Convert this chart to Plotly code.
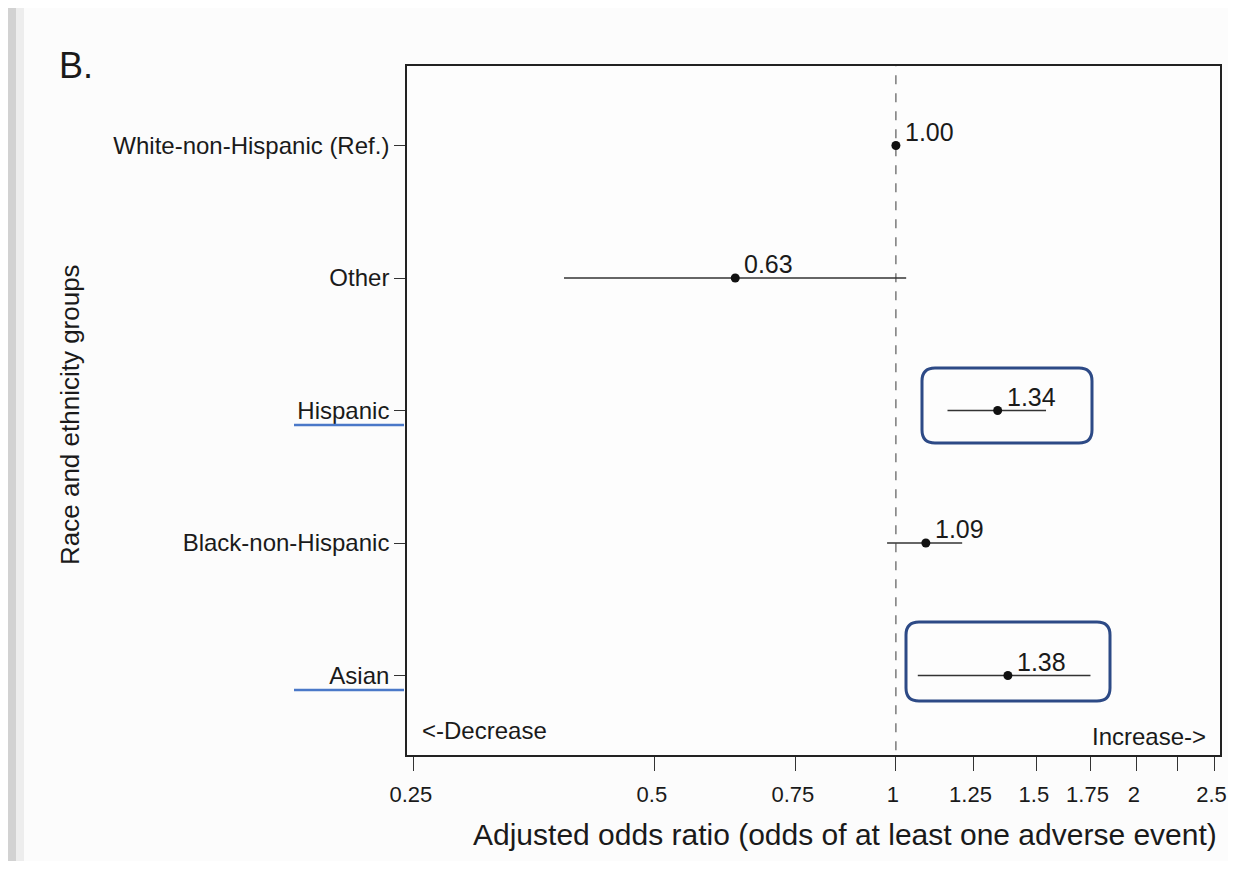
import plotly.graph_objects as go
import math

# ---- data ----
groups = ["White-non-Hispanic (Ref.)", "Other", "Hispanic", "Black-non-Hispanic", "Asian"]
odds = [1.00, 0.63, 1.34, 1.09, 1.38]
lower = [1.00, 0.385, 1.16, 0.975, 1.065]
upper = [1.00, 1.03, 1.54, 1.21, 1.75]
value_labels = ["1.00", "0.63", "1.34", "1.09", "1.38"]
ypos = [4, 3, 2, 1, 0]
tick_vals = [0.25, 0.5, 0.75, 1, 1.25, 1.5, 1.75, 2, 2.25, 2.5]
tick_text = ["0.25", "0.5", "0.75", "1", "1.25", "1.5", "1.75", "2", "", "2.5"]

OFF = 8                      # page body margin
WF, HF = 1236 - 2 * OFF, 869 - 2 * OFF   # figure size
L, R, T, B = 407, 1220, 66, 755          # plot area in screen pixels
FONT = "Liberation Sans, Arial, Helvetica, sans-serif"


def px(x):
    return (x - L) / (R - L)


def py(y):
    return (B - y) / (B - T)


fig = go.Figure()

fig.add_trace(go.Scatter(
    x=[1, 1], y=[-0.7, 4.8], mode="lines",
    line=dict(color="#666666", width=1.3, dash="dash"),
    hoverinfo="skip", showlegend=False))

fig.add_trace(go.Scatter(
    x=odds, y=ypos, mode="markers",
    marker=dict(color="#111111", size=9),
    error_x=dict(type="data", symmetric=False,
                 array=[u - o for u, o in zip(upper, odds)],
                 arrayminus=[o - l for o, l in zip(odds, lower)],
                 color="#333333", thickness=1.5, width=0),
    showlegend=False))

fig.update_xaxes(
    type="log", range=[math.log10(0.2451), math.log10(2.54)],
    tickvals=tick_vals, ticktext=tick_text,
    ticks="outside", ticklen=14, tickwidth=1.3, tickcolor="#333",
    ticklabelstandoff=5, ticklabelshift=-3,
    tickfont=dict(family=FONT, size=22, color="#1a1a1a"),
    showgrid=False, zeroline=False,
    showline=True, linecolor="#222", linewidth=1.6, mirror=True)

fig.update_yaxes(
    range=[-0.6, 4.6], tickvals=ypos, ticktext=groups,
    ticks="outside", ticklen=11, tickwidth=1.3, tickcolor="#333",
    tickfont=dict(family=FONT, size=24, color="#1a1a1a"),
    showgrid=False, zeroline=False,
    showline=True, linecolor="#222", linewidth=1.6, mirror=True)

ann = [
    dict(text="B.", x=px(76), y=py(65), font=dict(size=36)),
    dict(text="Race and ethnicity groups", x=px(70), y=py(415), textangle=-90, font=dict(size=26)),
    dict(text="Adjusted odds ratio (odds of at least one adverse event)", x=px(845), y=py(834), font=dict(size=30)),
    dict(text="<-Decrease", x=px(484), y=py(730), font=dict(size=24)),
    dict(text="Increase->", x=px(1149), y=py(736), font=dict(size=24)),
]
for a in ann:
    a.update(xref="paper", yref="paper", showarrow=False, xanchor="center", yanchor="middle")
    a["font"].update(family=FONT, color="#1a1a1a")

# value labels next to each point
for o, yv, lab in zip(odds, ypos, value_labels):
    ann.append(dict(text=lab, x=math.log10(o), y=yv, xref="x", yref="y",
                    showarrow=False, xanchor="left", yanchor="middle",
                    xshift=7, yshift=14,
                    font=dict(family=FONT, size=25, color="#1a1a1a")))
fig.update_layout(annotations=ann)


def rounded(x0, y0, x1, y1, r=13):
    rx, ry = r / (R - L), r / (B - T)
    a0, a1 = px(x0), px(x1)
    b0, b1 = py(y1), py(y0)
    return (f"M {a0+rx},{b1} L {a1-rx},{b1} Q {a1},{b1} {a1},{b1-ry} "
            f"L {a1},{b0+ry} Q {a1},{b0} {a1-rx},{b0} L {a0+rx},{b0} "
            f"Q {a0},{b0} {a0},{b0+ry} L {a0},{b1-ry} Q {a0},{b1} {a0+rx},{b1} Z")


shapes = [
    dict(type="rect", xref="paper", yref="paper", x0=px(8), x1=px(16), y0=py(869), y1=py(0),
         fillcolor="rgba(160,160,160,0.45)", line=dict(width=0), layer="below"),
    dict(type="rect", xref="paper", yref="paper", x0=px(16), x1=px(24), y0=py(869), y1=py(0),
         fillcolor="rgba(180,180,180,0.2)", line=dict(width=0), layer="below"),
    dict(type="path", xref="paper", yref="paper", path=rounded(922, 368, 1092, 443),
         line=dict(color="#2d4a86", width=3)),
    dict(type="path", xref="paper", yref="paper", path=rounded(906, 622, 1110, 701),
         line=dict(color="#2d4a86", width=3)),
    dict(type="line", xref="paper", yref="paper", x0=px(294), x1=px(404), y0=py(425), y1=py(425),
         line=dict(color="#4a78c8", width=2.5)),
    dict(type="line", xref="paper", yref="paper", x0=px(294), x1=px(404), y0=py(690), y1=py(690),
         line=dict(color="#4a78c8", width=2.5)),
]

fig.update_layout(
    width=WF, height=HF,
    margin=dict(l=L - OFF, r=(WF + OFF) - R, t=T - OFF, b=(HF + OFF) - B, autoexpand=False),
    paper_bgcolor="#fcfcfc", plot_bgcolor="#fdfdfd",
    shapes=shapes, showlegend=False,
    font=dict(family=FONT, color="#1a1a1a"))

fig.write_html("out.html")
